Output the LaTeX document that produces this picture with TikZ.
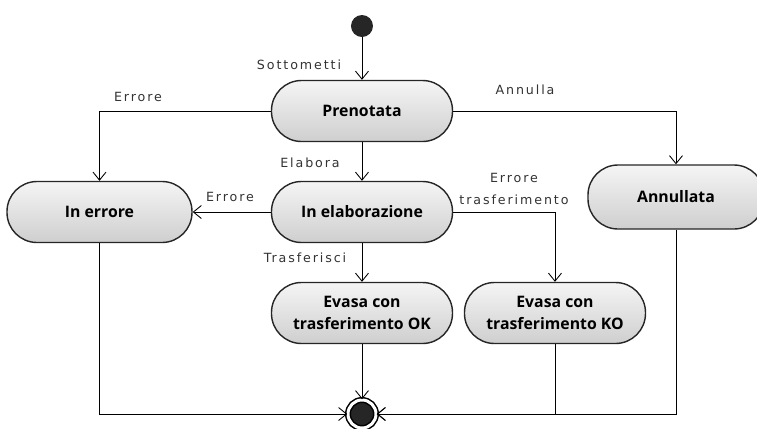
\documentclass[tikz,border=0pt]{standalone}
\usepackage{fontspec}
\setmainfont{Open Sans}
\newfontfamily\lblfont[LetterSpace=15]{DejaVu Sans}
\usepackage{tikz}
\usetikzlibrary{positioning, arrows.meta}
\tikzstyle{state} = [rectangle, rounded corners=0.6cm,
minimum width=3.62cm,
minimum height=1.22cm,
text centered,
align=center,
draw=black!85,
line width=0.8pt,
top color=gray!8,
bottom color=gray!38,
font=\bfseries\fontsize{9}{12.5}\selectfont]
\tikzstyle{initial} = [circle,
minimum size=0.44cm,
inner sep=0pt,
fill=black!85]
\tikzstyle{final} = [circle,
minimum size=0.56cm,
inner sep=0pt,
draw=black, line width=0.03cm,
double=white, double distance=0.06cm,
fill=black!85]
\tikzstyle{trans} = [font=\lblfont\fontsize{7.2}{12.5}\selectfont,
text=black!80,
align=center,
inner sep=1pt]
\tikzstyle{arrow} = [line width=0.5pt,->,>={Straight Barb[length=1.6mm,width=2.6mm]}]

\begin{document}
\begin{tikzpicture}[node distance=2.02cm]
\useasboundingbox (-7.24,2.22) rectangle (7.9,-6.34);

\node (pren) [state] {Prenotata};
\node (init) [initial, above of=pren, yshift=-0.32cm] {};
\node (inelab) [state, below of=pren] {In elaborazione};
\node (inerr) [state, left of=inelab, xshift=-3.23cm, minimum width=3.7cm] {In errore};
\node (annul) [state, below of=pren, xshift=6.28cm, yshift=0.3cm, minimum width=3.52cm, minimum height=1.28cm] {Annullata};
\node (evok) [state, below of=inelab] {Evasa con\\trasferimento OK};
\node (evko) [state, below of=inelab, xshift=3.86cm] {Evasa con\\trasferimento KO};
\node (fine) [final, below of=evok] {};

% transition labels
\node (lsott) [trans] at (-1.26,0.92) {Sottometti};
\node (lerr1) [trans] at (-4.48,0.28) {Errore};
\node (lannul) [trans] at (3.26,0.42) {Annulla};
\node (lelab) [trans] at (-1.04,-1.04) {Elabora};
\node (lerr2) [trans] at (-2.64,-1.72) {Errore};
\node (lerrtr) [trans] at (3.04,-1.56) {Errore\\trasferimento};
\node (ltrasf) [trans] at (-1.14,-2.94) {Trasferisci};

\draw [arrow] (init) -- (pren);
\draw [arrow] (pren.west) -| (inerr);
\draw [arrow] (pren.east) -| (annul);
\draw [arrow] (pren) -- (inelab);
\draw [arrow] (inelab) -- (inerr);
\draw [arrow] (inelab.east) -| (evko);
\draw [arrow] (inelab) -- (evok);
\draw [arrow] (evok) -- (fine);
\draw [arrow] (inerr) |- (fine);
\draw [arrow] (evko) |- (fine);
\draw [arrow] (annul) |- (fine);

\end{tikzpicture}
\end{document}
